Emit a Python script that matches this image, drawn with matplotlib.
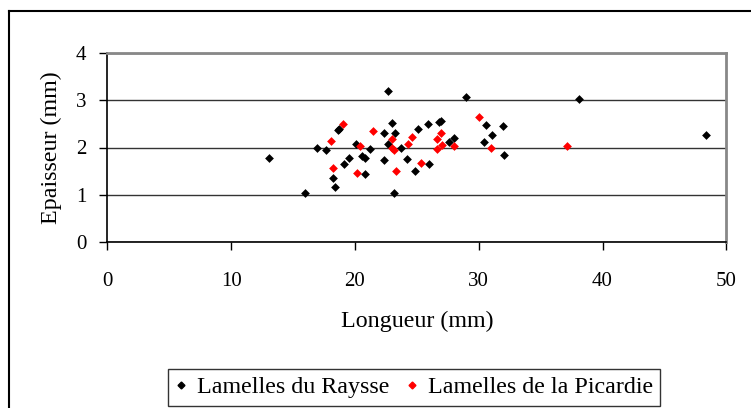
import matplotlib.pyplot as plt
from matplotlib.lines import Line2D

# Data
raysse_x = [13.09, 15.94, 16.97, 17.69, 18.26, 18.37, 18.6, 18.74, 19.15, 19.5,
            20.06, 20.57, 20.82, 20.79, 21.25, 22.35, 22.37, 22.67, 22.7, 23.02,
            23.13, 23.21, 23.7, 24.2, 24.83, 25.12, 25.9, 25.98, 26.79, 26.95,
            27.58, 27.98, 28.95, 30.45, 30.56, 31.07, 31.93, 32.04, 38.1, 48.33]
raysse_y = [1.78, 1.03, 1.99, 1.94, 1.35, 1.16, 2.38, 2.39, 1.65, 1.77,
            2.07, 1.81, 1.77, 1.43, 1.97, 1.73, 2.30, 3.20, 2.08, 2.52,
            1.03, 2.30, 1.98, 1.76, 1.50, 2.40, 2.49, 1.65, 2.54, 2.57,
            2.11, 2.21, 3.07, 2.12, 2.48, 2.26, 2.46, 1.84, 3.02, 2.27]

picardie_x = [18.1, 18.2, 19.04, 20.14, 20.44, 21.46, 23.02, 23.0, 23.16, 23.32,
              24.29, 24.61, 25.34, 26.6, 26.63, 26.95, 27.0, 28.03, 30.0, 31.02, 37.13]
picardie_y = [2.14, 1.57, 2.49, 1.46, 2.03, 2.36, 2.17, 1.99, 1.95, 1.50,
              2.08, 2.22, 1.67, 1.96, 2.17, 2.30, 2.06, 2.03, 2.64, 1.99, 2.03]

plt.rcParams["font.family"] = ["Liberation Serif", "DejaVu Serif"]
tick_fs = 15
label_fs = 17.3

fig = plt.figure(figsize=(7.51, 4.08), dpi=100)
ax = fig.add_axes([107.3 / 751, 1 - 241.7 / 408, 619 / 751, 188.4 / 408])

ax.scatter(raysse_x, raysse_y, marker="D", s=20, color="black", linewidths=0, zorder=3)
ax.scatter(picardie_x, picardie_y, marker="D", s=20, color="red", linewidths=0, zorder=4)

ax.set_xlim(0, 50)
ax.set_ylim(0, 4)
ax.set_xticks(range(0, 51, 10))
ax.set_yticks(range(0, 5))
ax.tick_params(labelsize=tick_fs, direction="out", length=6, width=1, colors="black")
ax.tick_params(axis="x", pad=16)
ax.tick_params(axis="y", pad=9)

# Gridlines
ax.grid(axis="y", color="#333333", linewidth=1)
ax.set_axisbelow(True)

for side in ["left", "bottom"]:
    ax.spines[side].set_color("black")
    ax.spines[side].set_linewidth(1.2)
for side in ["top", "right"]:
    ax.spines[side].set_color("#888888")
    ax.spines[side].set_linewidth(2)

ax.set_xlabel("Longueur (mm)", fontsize=label_fs, labelpad=14)
ax.set_ylabel("Epaisseur (mm)", fontsize=label_fs, labelpad=10)

# Outer chart frame
fig.add_artist(Line2D([9 / 751, 1.0], [1 - 11 / 408, 1 - 11 / 408],
                      transform=fig.transFigure, color="black", linewidth=1.5))
fig.add_artist(Line2D([9 / 751, 9 / 751], [0, 1 - 11 / 408],
                      transform=fig.transFigure, color="black", linewidth=1.5))

handles = [
    Line2D([], [], marker="D", linestyle="none", color="black", markersize=3.5),
    Line2D([], [], marker="D", linestyle="none", color="red", markersize=3.5),
]
leg = fig.legend(handles, ["Lamelles du Raysse", "Lamelles de la Picardie"],
                 loc="lower left", bbox_to_anchor=(168 / 751, 2.5 / 408),
                 ncol=2, fontsize=label_fs, frameon=True, fancybox=False,
                 edgecolor="black", handlelength=0.5, handletextpad=0.4,
                 columnspacing=0.7, borderpad=0.3, borderaxespad=0)
leg.get_frame().set_linewidth(1)

fig.savefig("out.png", dpi=100)
